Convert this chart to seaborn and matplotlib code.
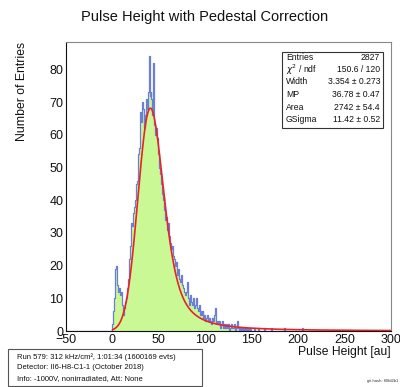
import numpy as np
import pandas as pd
import matplotlib
matplotlib.use("Agg")
import matplotlib.pyplot as plt
import seaborn as sns
from matplotlib.patches import Rectangle
from matplotlib.ticker import MultipleLocator

# ---------------- data ----------------
bin_lo, bin_hi, bin_w = -50, 300, 1
first_bin = 0  # counts below start at x = 0
counts = [2, 6, 10, 19, 20, 14, 12, 13, 11, 12, 8, 5, 6, 7, 9, 10, 13, 16, 22, 26,
          33, 32, 36, 38, 40, 45, 46, 52, 54, 56, 67, 64, 70, 68, 62, 66, 71, 68, 73, 84,
          72, 73, 71, 66, 82, 63, 60, 62, 59, 54, 50, 48, 45, 42, 40, 41, 37, 34, 35, 31,
          33, 29, 27, 25, 26, 23, 22, 20, 21, 18, 17, 19, 16, 15, 17, 14, 13, 12, 11, 12,
          15, 10, 8, 9, 11, 9, 8, 10, 7, 8, 10, 7, 6, 8, 5, 6, 5, 6, 4, 5,
          3, 4, 5, 3, 4, 3, 2, 4, 3, 5, 7, 3, 2, 3, 2, 3, 1, 2, 3, 1,
          2, 1, 2, 1, 2, 1, 0, 1, 2, 1, 1, 2, 0, 1, 3, 1, 0, 1, 0, 1,
          1, 0, 1, 0, 1, 0, 1, 0, 1, 0, 0, 0, 1, 0, 0, 0, 0, 1, 0, 0]
tail_x = [163, 171, 185, 204]
tail_counts = [1, 1, 1, 1]

title = "Pulse Height with Pedestal Correction"
xlabel = "Pulse Height [au]"
ylabel = "Number of Entries"
stat_names = ["Entries", r"$\chi^2$ / ndf", "Width", "MP", "Area", "GSigma"]
stat_values = ["2827", "150.6 / 120", "3.354 \u00b1 0.273", "36.78 \u00b1 0.47",
               "2742 \u00b1 54.4", "11.42 \u00b1 0.52"]
info_lines = ["Run 579: 312 kHz/cm\u00b2, 1:01:34 (1600169 evts)",
              "Detector: II6-H8-C1-1 (October 2018)",
              "Info: -1000V, nonirradiated, Att: None"]
git_text = "git hash: 80fd2b1"

# fit parameters (Landau convolved with Gaussian)
fit_width, fit_mp, fit_area, fit_gsigma = 3.354, 36.78, 2742.0, 11.42
fit_range = (0, 300)

# ---------------- build histogram arrays ----------------
edges = np.arange(bin_lo, bin_hi + bin_w, bin_w)
centers = edges[:-1] + bin_w / 2
full = np.zeros(len(centers))
start = int((first_bin - bin_lo) / bin_w)
full[start:start + len(counts)] = counts
for tx, tc in zip(tail_x, tail_counts):
    full[int((tx - bin_lo) / bin_w)] += tc
hist_df = pd.DataFrame({"x": centers, "w": full})


# ---------------- Landau (CERNLIB DENLAN) ----------------
def landau_pdf(v):
    v = np.asarray(v, dtype=float)
    p1 = [0.4259894875, -0.1249762550, 0.03984243700, -0.006298287635, 0.001511162253]
    q1 = [1.0, -0.3388260629, 0.09594393323, -0.01608042283, 0.003778942063]
    p2 = [0.1788541609, 0.1173957403, 0.01488850518, -0.001394989411, 0.0001283617211]
    q2 = [1.0, 0.7428795082, 0.3153932961, 0.06694219548, 0.008790609714]
    p3 = [0.1788544503, 0.09359161662, 0.006325387654, 0.00006611667319, -0.000002031049101]
    q3 = [1.0, 0.6097809921, 0.2560616665, 0.04746722384, 0.006957301675]
    p4 = [0.9874054407, 118.6723273, 849.2794360, -743.7792444, 427.0262186]
    q4 = [1.0, 106.8615961, 337.6496214, 2016.712389, 1597.063511]
    p5 = [1.003675074, 167.5702434, 4789.711289, 21217.86767, -22324.94910]
    q5 = [1.0, 156.9424537, 3745.310488, 9834.698876, 66924.28357]
    p6 = [1.000827619, 664.9143136, 62972.92665, 475554.6998, -5743609.109]
    q6 = [1.0, 651.4101098, 56974.73333, 165917.4725, -2815759.939]
    a1 = [0.04166666667, -0.01996527778, 0.02709538966]
    a2 = [-1.845568670, -4.284640743]

    def poly(c, z):
        return c[0] + (c[1] + (c[2] + (c[3] + c[4] * z) * z) * z) * z

    out = np.zeros_like(v)
    with np.errstate(all="ignore"):
        m = v < -5.5
        u = np.exp(v[m] + 1.0)
        r = 0.3989422803 * (np.exp(-1 / u) / np.sqrt(u)) * (1 + (a1[0] + (a1[1] + a1[2] * u) * u) * u)
        out[m] = np.where(u < 1e-10, 0.0, r)
        m = (v >= -5.5) & (v < -1)
        u = np.exp(-v[m] - 1)
        out[m] = np.exp(-u) * np.sqrt(u) * poly(p1, v[m]) / poly(q1, v[m])
        m = (v >= -1) & (v < 1)
        out[m] = poly(p2, v[m]) / poly(q2, v[m])
        m = (v >= 1) & (v < 5)
        out[m] = poly(p3, v[m]) / poly(q3, v[m])
        m = (v >= 5) & (v < 12)
        u = 1 / v[m]
        out[m] = u * u * poly(p4, u) / poly(q4, u)
        m = (v >= 12) & (v < 50)
        u = 1 / v[m]
        out[m] = u * u * poly(p5, u) / poly(q5, u)
        m = (v >= 50) & (v < 300)
        u = 1 / v[m]
        out[m] = u * u * poly(p6, u) / poly(q6, u)
        m = v >= 300
        u = 1 / (v[m] - v[m] * np.log(v[m]) / (v[m] + 1))
        out[m] = u * u * (1 + (a2[0] + a2[1] * u) * u)
    return np.nan_to_num(out)


mp_shift = -0.22278298
mpc = fit_mp - mp_shift * fit_width
xx = np.arange(-150, 450, 0.05)
land = landau_pdf((xx - mpc) / fit_width) / fit_width
fit_x = np.arange(fit_range[0], fit_range[1] + 0.25, 0.5)
gauss = np.exp(-0.5 * ((fit_x[:, None] - xx[None, :]) / fit_gsigma) ** 2) / (np.sqrt(2 * np.pi) * fit_gsigma)
fit_y = fit_area * (gauss * land[None, :]).sum(axis=1) * 0.05
fit_df = pd.DataFrame({"x": fit_x, "y": fit_y})

# ---------------- plotting ----------------
sns.set_style("white")
plt.rcParams["font.family"] = ["Liberation Sans", "DejaVu Sans"]

W, H = 400, 387
fig = plt.figure(figsize=(W / 100, H / 100), dpi=100)
ax_l, ax_r, ax_t, ax_b = 66, 391, 42, 331
ax = fig.add_axes([ax_l / W, 1 - ax_b / H, (ax_r - ax_l) / W, (ax_b - ax_t) / H])

green = "#c9f894"
blue = "#6b7fd7"
red = "#e8232a"

sns.histplot(data=hist_df, x="x", weights="w", binwidth=bin_w, binrange=(bin_lo, bin_hi),
             element="step", fill=True, color=green, alpha=1.0, linewidth=0, ax=ax)
sns.histplot(data=hist_df, x="x", weights="w", binwidth=bin_w, binrange=(bin_lo, bin_hi),
             element="step", fill=False, color=blue, linewidth=0.9, ax=ax)
sns.lineplot(data=fit_df, x="x", y="y", color=red, linewidth=1.2, ax=ax)

ax.set_xlim(bin_lo, bin_hi)
ax.set_ylim(0, (ax_b - ax_t) / 3.27)
ax.set_xlabel("")
ax.set_ylabel("")
ax.xaxis.set_major_locator(MultipleLocator(50))
ax.xaxis.set_minor_locator(MultipleLocator(10))
ax.yaxis.set_major_locator(MultipleLocator(10))
ax.yaxis.set_minor_locator(MultipleLocator(2))
ax.tick_params(which="both", direction="in", top=False, right=False, colors="#111111",
               labelsize=9)
ax.tick_params(which="major", length=6, width=0.7)
ax.tick_params(which="minor", length=3, width=0.6)
ax.tick_params(axis="x", pad=2.4)
ax.tick_params(axis="y", pad=2)
for lbl in ax.get_yticklabels():
    lbl.set_verticalalignment("center_baseline")
for side in ["left", "bottom"]:
    ax.spines[side].set_color("#111111")
    ax.spines[side].set_linewidth(0.8)
for side in ["top", "right"]:
    ax.spines[side].set_color("#888888")
    ax.spines[side].set_linewidth(0.8)

# title and axis labels
fig.text(205 / W, 1 - 20.5 / H, title, ha="center", va="baseline", fontsize=10.5, color="#111111")
fig.text(21.7 / W, 1 - ax_t / H, ylabel, ha="center", va="top", rotation=90,
         fontsize=8.8, color="#111111")
fig.text(ax_r / W, 1 - 355 / H, xlabel, ha="right", va="baseline", fontsize=8.7, color="#111111")

# stats box
bx0, by0, bx1, by1 = 281.7, 51.7, 383.3, 128.3
fig.patches.append(Rectangle((bx0 / W, 1 - by1 / H), (bx1 - bx0) / W, (by1 - by0) / H,
                             transform=fig.transFigure, facecolor="white",
                             edgecolor="#333333", linewidth=0.8, zorder=5))
row_y = [57, 69.5, 82, 94.5, 107, 120]
for name, val, yy in zip(stat_names, stat_values, row_y):
    fig.text(286 / W, 1 - yy / H, name, ha="left", va="center", fontsize=6.2,
             color="#111111", zorder=6)
    fig.text(380 / W, 1 - yy / H, val, ha="right", va="center", fontsize=6.2,
             color="#111111", zorder=6)

# info box
ix0, iy0, ix1, iy1 = 8, 348.5, 202, 386.3
fig.patches.append(Rectangle((ix0 / W, 1 - iy1 / H), (ix1 - ix0) / W, (iy1 - iy0) / H,
                             transform=fig.transFigure, facecolor="white",
                             edgecolor="#555555", linewidth=0.8, zorder=5))
for line, yy in zip(info_lines, [357.2, 367.9, 378.5]):
    fig.text(16.7 / W, 1 - yy / H, line, ha="left", va="center", fontsize=5.5,
             color="#111111", zorder=6)

fig.text(398 / W, 1 - 381 / H, git_text, ha="right", va="center", fontsize=3,
         color="#333333")

fig.savefig("out.png", dpi=100)
